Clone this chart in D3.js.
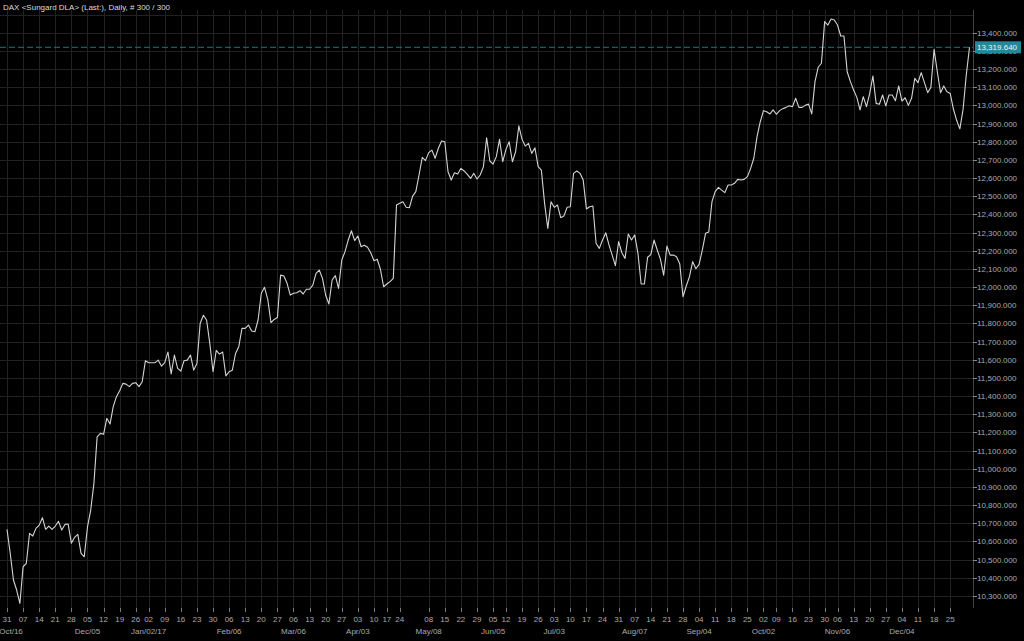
<!DOCTYPE html>
<html><head><meta charset="utf-8">
<script src="https://cdn.jsdelivr.net/npm/d3@7"></script>
<style>html,body{margin:0;padding:0;background:#000;}svg{display:block;}</style>
</head><body>
<svg id="chart" width="1024" height="641"></svg>
<script>
// ---------------- data ----------------
const title = "DAX <Sungard DLA> (Last:), Daily, # 300 / 300";
const firstDay = "2016-10-31";
const lastDay = "2018-01-05";
const holidays = ["2016-12-26","2017-04-14","2017-04-17","2017-05-01","2017-06-05",
                  "2017-10-03","2017-10-31","2017-12-25","2017-12-26","2018-01-01"];
const closes = [
 10667,10535,10388,10333,10259,10461,10479,10645,10630,10672,
 10690,10731,10667,10685,10667,10685,10711,10663,10694,10696,
 10590,10623,10639,10535,10516,10680,10773,10920,11176,11195,
 11190,11278,11246,11342,11397,11430,11470,11466,11452,11470,
 11474,11452,11479,11595,11584,11584,11584,11598,11565,11584,
 11643,11522,11626,11553,11538,11595,11598,11626,11543,11580,
 11800,11845,11819,11690,11534,11652,11631,11643,11511,11534,
 11543,11635,11672,11773,11773,11791,11758,11754,11819,11966,
 11999,11933,11804,11822,11833,12066,12061,12021,11956,11966,
 11969,11980,11962,11988,11988,12011,12076,12094,12048,11955,
 11907,12039,12063,11993,12149,12195,12259,12310,12256,12281,
 12222,12230,12219,12189,12145,12153,12098,12002,12017,12030,
 12048,12452,12461,12470,12439,12437,12501,12525,12617,12714,
 12696,12740,12754,12709,12764,12804,12800,12635,12589,12629,
 12622,12653,12639,12620,12598,12626,12595,12617,12663,12822,
 12694,12677,12718,12813,12690,12758,12800,12690,12745,12887,
 12813,12776,12791,12736,12767,12663,12644,12461,12323,12470,
 12439,12452,12382,12391,12439,12442,12626,12639,12626,12589,
 12430,12442,12446,12241,12213,12259,12299,12232,12176,12118,
 12250,12189,12158,12292,12259,12287,12186,12017,12017,12164,
 12179,12259,12204,12153,12065,12226,12176,12176,12167,12127,
 11947,12006,12057,12140,12101,12125,12204,12296,12303,12470,
 12525,12549,12534,12520,12562,12562,12571,12593,12589,12593,
 12608,12653,12709,12828,12910,12971,12965,12953,12975,12951,
 12971,12982,12989,12998,12993,13039,12989,12989,13000,13007,
 12953,13131,13210,13232,13461,13442,13475,13470,13442,13382,
 13382,13185,13131,13085,13044,12975,13048,12993,13066,13162,
 13011,13006,13057,12997,13057,13057,13026,13107,13024,13042,
 13000,13039,13149,13125,13180,13125,13070,13099,13309,13185,
 13070,13107,13075,13066,12980,12918,12871,12978,13167,13319.64
];
const lastValue = 13319.64;
const weekTickDates = [
 "2016-10-31","2016-11-07","2016-11-14","2016-11-21","2016-11-28","2016-12-05","2016-12-12",
 "2016-12-19","2016-12-26","2017-01-02","2017-01-09","2017-01-16","2017-01-23","2017-01-30",
 "2017-02-06","2017-02-13","2017-02-20","2017-02-27","2017-03-06","2017-03-13","2017-03-20",
 "2017-03-27","2017-04-03","2017-04-10","2017-04-17","2017-04-24","2017-05-08","2017-05-15",
 "2017-05-22","2017-05-29","2017-06-05","2017-06-12","2017-06-19","2017-06-26","2017-07-03",
 "2017-07-10","2017-07-17","2017-07-24","2017-07-31","2017-08-07","2017-08-14","2017-08-21",
 "2017-08-28","2017-09-04","2017-09-11","2017-09-18","2017-09-25","2017-10-02","2017-10-09",
 "2017-10-16","2017-10-23","2017-10-30","2017-11-06","2017-11-13","2017-11-20","2017-11-27",
 "2017-12-04","2017-12-11","2017-12-18","2017-12-25"
];
const monthTickDates = ["2016-10-31","2016-12-05","2017-01-02","2017-02-06","2017-03-06","2017-04-03",
 "2017-05-08","2017-06-05","2017-07-03","2017-08-07","2017-09-04","2017-10-02","2017-11-06","2017-12-04"];
const monthTickLabels = ["Oct/16","Dec/05","Jan/02/17","Feb/06","Mar/06","Apr/03",
 "May/08","Jun/05","Jul/03","Aug/07","Sep/04","Oct/02","Nov/06","Dec/04"];
const yTickValues = d3.range(10300, 13401, 100);
const yGridValues = d3.range(10300, 13501, 100);

// ---------------- trading calendar ----------------
const parse = d3.utcParse("%Y-%m-%d"), fmt = d3.utcFormat("%Y-%m-%d");
const hol = new Set(holidays);
const tradingDays = d3.utcDay.range(parse(firstDay), d3.utcDay.offset(parse(lastDay), 1))
  .filter(d => d.getUTCDay() !== 0 && d.getUTCDay() !== 6 && !hol.has(fmt(d)));
function dayIndex(s) { const t = parse(s); return tradingDays.findIndex(d => d >= t); }

// ---------------- layout ----------------
const W = 1024, H = 641;
const plotL = 0, plotR = 973, plotT = 10, plotB = 608;
const font = "'Liberation Sans', Arial, sans-serif";
const svg = d3.select("#chart");
svg.append("rect").attr("width", W).attr("height", H).attr("fill", "#000");

const x = d3.scaleLinear().domain([0, closes.length - 1]).range([7, 969.5]);
const y = d3.scaleLinear().domain([10300, 13400]).range([596, 32.7]);

// grid
const grid = svg.append("g");
grid.selectAll("line.h").data(yGridValues).join("line")
  .attr("x1", plotL).attr("x2", plotR)
  .attr("y1", d => Math.round(y(d)) + 0.5).attr("y2", d => Math.round(y(d)) + 0.5)
  .attr("stroke", "#222").attr("stroke-width", 1);
grid.selectAll("line.v").data(weekTickDates).join("line")
  .attr("x1", d => Math.round(x(dayIndex(d))) + 0.5).attr("x2", d => Math.round(x(dayIndex(d))) + 0.5)
  .attr("y1", plotT).attr("y2", plotB)
  .attr("stroke", "#222").attr("stroke-width", 1);

// x axis ticks + labels
const xa = svg.append("g");
xa.selectAll("line").data(weekTickDates).join("line")
  .attr("x1", d => Math.round(x(dayIndex(d))) + 0.5).attr("x2", d => Math.round(x(dayIndex(d))) + 0.5)
  .attr("y1", plotB).attr("y2", plotB + 4)
  .attr("stroke", "#777");
xa.selectAll("text").data(weekTickDates).join("text")
  .attr("x", d => x(dayIndex(d))).attr("y", 622)
  .attr("text-anchor", "middle").attr("fill", "#aaa")
  .attr("font-family", font).attr("font-size", 8)
  .text(d => d.slice(8, 10));
svg.append("g").selectAll("text").data(monthTickDates).join("text")
  .attr("x", (d, i) => Math.max(x(dayIndex(d)), 11))
  .attr("y", 634)
  .attr("text-anchor", "middle").attr("fill", "#aaa")
  .attr("font-family", font).attr("font-size", 8)
  .text((d, i) => monthTickLabels[i]);

// right axis
svg.append("line").attr("x1", plotR + 0.5).attr("x2", plotR + 0.5)
  .attr("y1", plotT).attr("y2", plotB).attr("stroke", "#444");
const ya = svg.append("g");
const numFmt = d3.format(",.3f");
ya.selectAll("line").data(yTickValues).join("line")
  .attr("x1", plotR).attr("x2", plotR + 4)
  .attr("y1", d => Math.round(y(d)) + 0.5).attr("y2", d => Math.round(y(d)) + 0.5)
  .attr("stroke", "#888");
ya.selectAll("text").data(yTickValues).join("text")
  .attr("x", plotR + 4).attr("y", d => y(d) + 3)
  .attr("fill", "#aaa").attr("font-family", font).attr("font-size", 8)
  .text(d => numFmt(d));

// last value dashed line
svg.append("line").attr("x1", plotL).attr("x2", plotR)
  .attr("y1", y(lastValue)).attr("y2", y(lastValue))
  .attr("stroke", "#1f7282").attr("stroke-dasharray", "6,3").attr("stroke-width", 1);

// price line
svg.append("path").datum(closes)
  .attr("d", d3.line().x((d, i) => x(i)).y(d => y(d)))
  .attr("fill", "none").attr("stroke", "#d4d4d4").attr("stroke-width", 1.1)
  .attr("stroke-linejoin", "round");

// last value label
svg.append("rect").attr("x", plotR + 2).attr("y", y(lastValue) - 6).attr("width", 46).attr("height", 12)
  .attr("fill", "#23899a");
svg.append("text").attr("x", plotR + 4).attr("y", y(lastValue) + 3)
  .attr("fill", "#eaf6f8").attr("font-family", font).attr("font-size", 8)
  .text(numFmt(lastValue));

// title
svg.append("text").attr("x", 3).attr("y", 10).attr("fill", "#ddd")
  .attr("font-family", font).attr("font-size", 8).text(title);
</script>
</body></html>
